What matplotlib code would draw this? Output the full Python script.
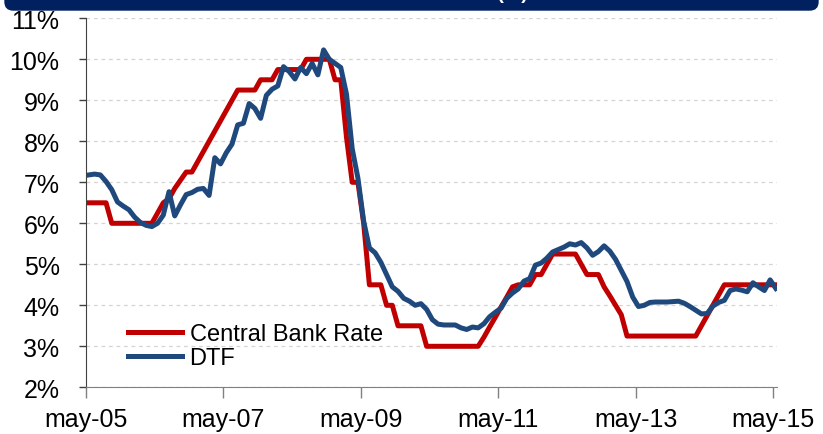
import numpy as np
import matplotlib
matplotlib.use('Agg')
import matplotlib.pyplot as plt
from matplotlib.patches import FancyBboxPatch

plt.rcParams['font.family'] = ['Liberation Sans', 'DejaVu Sans']

# monthly data, May-05 .. May-15 (% per year)
central_bank_rate = [
    6.5, 6.5, 6.5, 6.5, 6.0, 6.0, 6.0, 6.0, 6.0, 6.0, 6.0, 6.0,
    6.25, 6.5, 6.6, 6.85, 7.05, 7.25, 7.25,
    7.5, 7.75, 8.0, 8.25, 8.5, 8.75, 9.0, 9.25,
    9.25, 9.25, 9.25, 9.5, 9.5, 9.5,
    9.75, 9.75, 9.75, 9.75, 9.75,
    10.0, 10.0, 10.0, 10.0, 10.0, 9.5, 9.5,
    8.1, 7.0, 7.0, 6.0, 4.5, 4.5, 4.5, 4.0, 4.0,
    3.5, 3.5, 3.5, 3.5, 3.5,
    3.0, 3.0, 3.0, 3.0, 3.0, 3.0, 3.0, 3.0, 3.0, 3.0,
    3.22, 3.47, 3.71, 3.96, 4.2, 4.45,
    4.5, 4.5, 4.5, 4.75, 4.75, 5.0,
    5.25, 5.25, 5.25, 5.25, 5.25, 5.0, 4.75, 4.75, 4.75,
    4.45, 4.23, 4.0, 3.77,
    3.25, 3.25, 3.25, 3.25, 3.25, 3.25, 3.25, 3.25, 3.25, 3.25, 3.25, 3.25, 3.25,
    3.5, 3.75, 4.0, 4.25,
    4.5, 4.5, 4.5, 4.5, 4.5, 4.5, 4.5, 4.5, 4.5, 4.5,
]
dtf = [
    7.18, 7.2, 7.18, 7.02, 6.82, 6.52, 6.42, 6.33, 6.15, 6.02, 5.95, 5.92,
    6.0, 6.2, 6.77, 6.18, 6.45, 6.7, 6.75, 6.83, 6.85, 6.68, 7.6, 7.45,
    7.72, 7.93, 8.4, 8.44, 8.92, 8.8, 8.56, 9.12, 9.27, 9.35, 9.82, 9.7,
    9.52, 9.8, 9.65, 9.9, 9.62, 10.23, 10.0, 9.9, 9.8, 9.15, 7.82, 7.1,
    6.05, 5.4, 5.28, 5.05, 4.75, 4.45, 4.34, 4.17, 4.1, 4.0, 4.04, 3.9,
    3.65, 3.54, 3.52, 3.52, 3.52, 3.45, 3.41, 3.47, 3.45, 3.55, 3.72, 3.83,
    3.93, 4.17, 4.3, 4.4, 4.59, 4.65, 4.98, 5.03, 5.15, 5.3, 5.36, 5.42,
    5.5, 5.47, 5.53, 5.4, 5.22, 5.31, 5.45, 5.32, 5.12, 4.85, 4.58, 4.2,
    3.97, 4.0, 4.07, 4.08, 4.08, 4.08, 4.09, 4.1, 4.05, 3.97, 3.88, 3.79,
    3.8, 3.98, 4.07, 4.12, 4.36, 4.4, 4.37, 4.33, 4.55, 4.45, 4.36, 4.62,
    4.41,
]
tick_months = [0, 24, 48, 72, 96, 120]
tick_labels = ['may-05', 'may-07', 'may-09', 'may-11', 'may-13', 'may-15']

months = np.arange(len(dtf)) + 0.5   # mid-month

fig = plt.figure(figsize=(8.23, 4.35), dpi=100)

# header banner, mostly cut off at the top (as in the original)
banner = FancyBboxPatch((5 / 823, 1 - 11 / 435), 813 / 823, 40 / 435,
                        boxstyle='round,pad=0,rounding_size=0.01',
                        mutation_aspect=823 / 435,
                        transform=fig.transFigure, facecolor='#002060',
                        edgecolor='#002060', lw=1)
fig.patches.append(banner)
fig.text(528 / 823, 1 + 1 / 435, 'Central Bank Rate and DTF (%)', color='white',
         fontsize=14, fontweight='bold', ha='right', va='baseline')

ax = fig.add_axes([86 / 823, 1 - 388.3 / 435, 691 / 823, 369 / 435])

ax.plot(months, central_bank_rate, color='#C00000', lw=3.6, label='Central Bank Rate')
ax.plot(months, dtf, color='#1F497D', lw=3.6, label='DTF')

ax.set_xlim(0, 120.7)
ax.set_ylim(2, 11)
ax.set_yticks(range(2, 12))
ax.set_yticklabels([f'{v}%' for v in range(2, 12)])
ax.set_xticks(tick_months)
ax.set_xticklabels(tick_labels)

ax.yaxis.grid(True, linestyle=(0, (3, 3)), color='#d4d4d4', lw=0.9)
ax.set_axisbelow(True)

for s in ['top', 'right']:
    ax.spines[s].set_visible(False)
ax.spines['left'].set_color('#404040')
ax.spines['bottom'].set_color('#808080')
ax.tick_params(axis='y', direction='out', length=5, width=1, color='#404040',
               labelsize=18, pad=14)
ax.tick_params(axis='x', direction='out', length=8, width=1, color='#808080',
               labelsize=18, pad=6)

ax.legend(loc='center left', bbox_to_anchor=(0.061, 0.112), frameon=False,
          fontsize=17, handlelength=2.3, handletextpad=0.3, labelspacing=0.1,
          borderpad=0, borderaxespad=0)

fig.savefig('out.png', dpi=100)
